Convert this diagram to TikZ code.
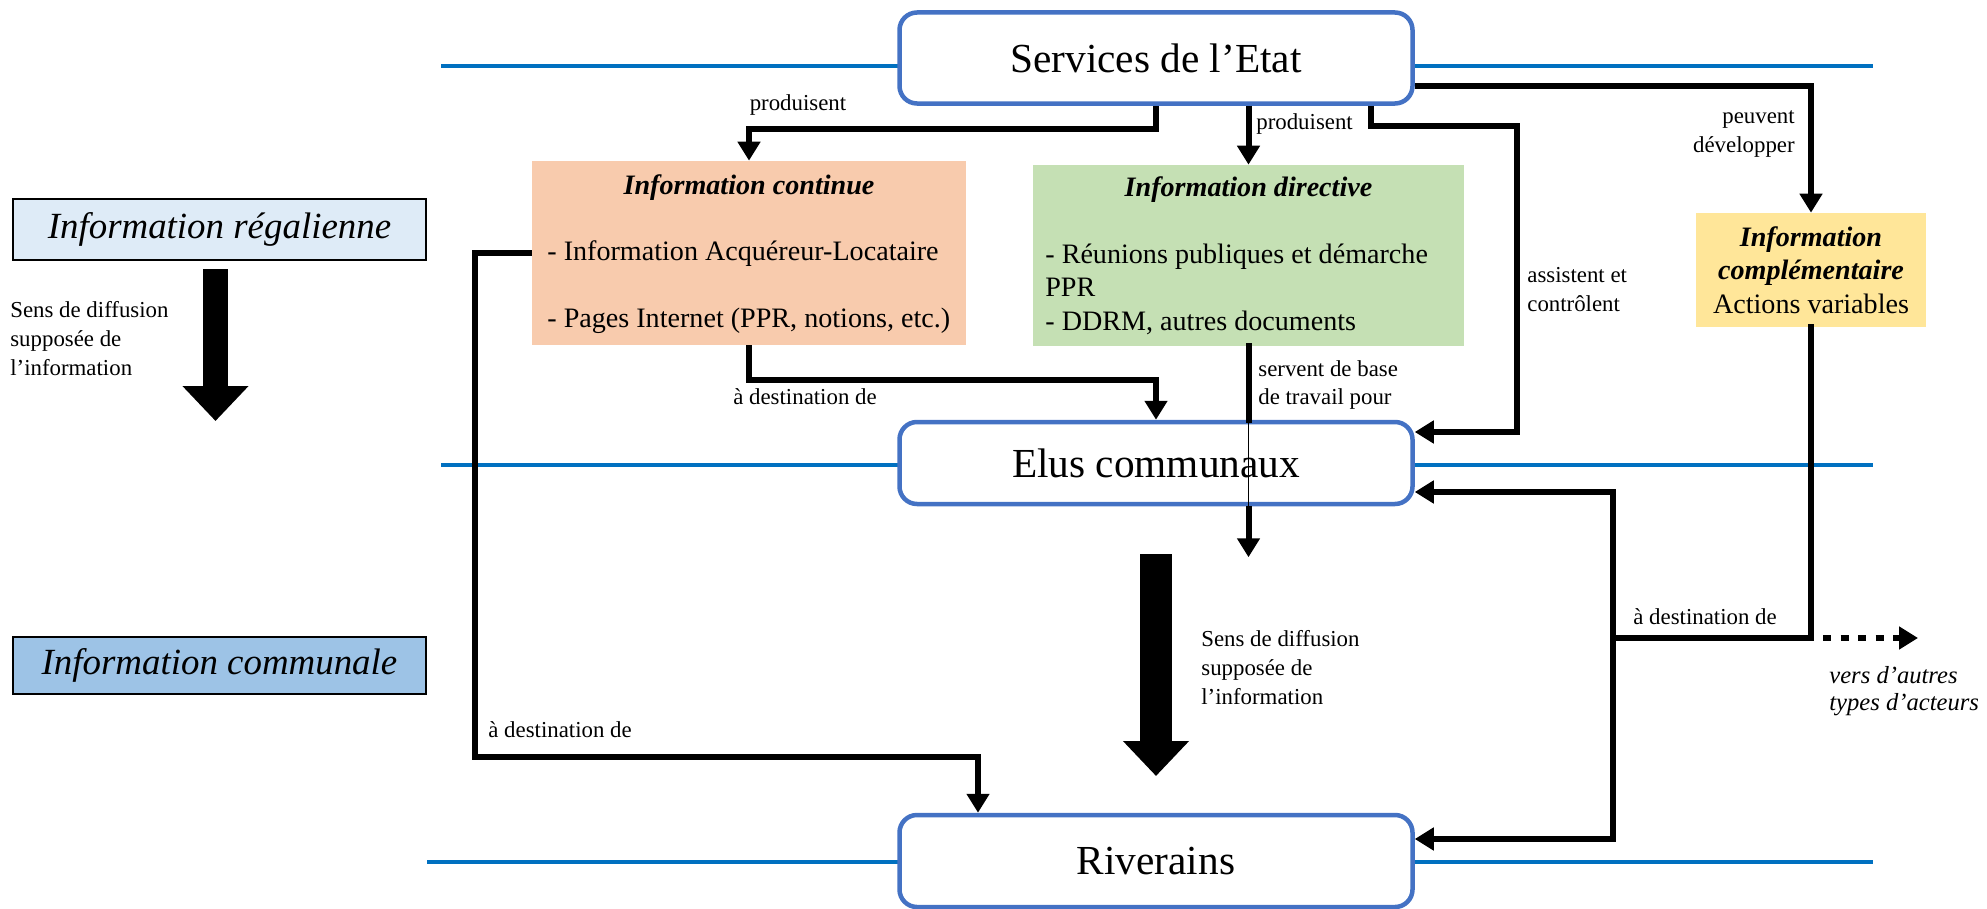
\documentclass[tikz,border=0pt]{standalone}
\usepackage{fontspec}
\setmainfont{Liberation Serif}
\usetikzlibrary{arrows.meta,positioning}

\definecolor{cadre}{HTML}{4472C4}
\definecolor{bleuniveau}{HTML}{0070C0}
\definecolor{saumon}{HTML}{F8CBAD}
\definecolor{vert}{HTML}{C5E0B4}
\definecolor{jaune}{HTML}{FFE699}
\definecolor{bleuclair}{HTML}{DEEBF7}
\definecolor{bleumoyen}{HTML}{9DC3E6}

\newcommand\petit{\fontsize{13}{16.5}\selectfont}
\newcommand\moyen{\fontsize{16}{19}\selectfont}

\begin{document}
\begin{tikzpicture}[x=0.2mm, y=-0.2mm,
  acteur/.style={draw=cadre, line width=0.9mm, rounded corners=3.5mm, fill=white,
    minimum width=102.6mm, font=\fontsize{23.5}{28}\selectfont},
  echelle/.style={draw, line width=0.45mm, minimum width=82.6mm, inner sep=0,
    font=\fontsize{21}{25}\selectfont\itshape},
  info/.style={fill=#1, inner sep=0},
  titre/.style={font=\moyen\bfseries\itshape, inner sep=0},
  corps/.style={font=\moyen, align=left, inner sep=0},
  etiq/.style={font=\petit, align=left, inner sep=0},
  niveau/.style={bleuniveau, line width=0.8mm},
  trait/.style={line width=1.2mm, line cap=rect},
  lien/.style={line width=1.2mm, -{Triangle[length=3.8mm,width=4.4mm]}},
  sens/.style={line width=#1, -{Triangle[length=7mm,width=12.8mm]}}]
  \useasboundingbox (0,0) rectangle (1987,909);

  % Niveaux
  \draw[niveau] (441,66) -- (1873,66);
  \draw[niveau] (441,465) -- (1873,465);
  \draw[niveau] (427,862) -- (1873,862);

  % Acteurs
  \node[acteur, minimum height=18.2mm] (etat) at (1156,58) {Services de l’Etat};
  \node[acteur, minimum height=16.4mm] (elus) at (1156,463) {Elus communaux};
  \node[acteur, minimum height=18.4mm] (riverains) at (1156,861) {Riverains};

  % Types d'information
  \node[echelle, fill=bleuclair, minimum height=12.2mm] (regalienne) at (219.5,229.5) {Information régalienne};
  \node[echelle, fill=bleumoyen, minimum height=11.4mm] (communale) at (219.5,665.5) {Information communale};

  \node[info=saumon, minimum width=86.8mm, minimum height=36.8mm] (continue) at (749,253) {};
  \node[titre] at (749,188) {Information continue};
  \node[corps, anchor=west] at (547,287)
    {- Information Acquéreur-Locataire\\[19pt]- Pages Internet (PPR, notions, etc.)};

  \node[info=vert, minimum width=86.2mm, minimum height=36.2mm] (directive) at (1248.5,255.5) {};
  \node[titre] at (1248.5,190) {Information directive};
  \node[corps, anchor=west] at (1045,289)
    {- Réunions publiques et démarche\\PPR\\- DDRM, autres documents};

  \node[info=jaune, minimum width=46mm, minimum height=22.8mm, align=center, font=\moyen]
    (complementaire) at (1811,270)
    {{\bfseries\itshape Information}\\{\bfseries\itshape complémentaire}\\Actions variables};

  % Sens de diffusion
  \coordinate (sens1 haut) at (215.5,269);
  \coordinate (sens1 bas) at (215.5,421);
  \draw[sens=5mm] (sens1 haut) -- (sens1 bas);
  \node[etiq, anchor=west] at (10,339) {Sens de diffusion\\supposée de\\l’information};

  \coordinate (sens2 haut) at (1156,554);
  \coordinate (sens2 bas) at (1156,776);
  \draw[sens=6.4mm] (sens2 haut) -- (sens2 bas);
  \node[etiq, anchor=west] at (1201,668) {Sens de diffusion\\supposée de\\l’information};

  % Services de l'Etat
  \draw[lien] (etat.south) -- ++(0,23) -| (continue.north);
  \node[etiq] at (798,105) {produisent};
  \draw[lien] (etat.south -| directive.north) -- (directive.north);
  \node[etiq, anchor=west] at (1256,124) {produisent};
  \draw[lien] ([xshift=43mm]etat.south) -- ++(0,20) -- ++(146,0) |- ([yshift=6.2mm]elus.east);
  \node[etiq, anchor=west] at (1527,290) {assistent et\\contrôlent};
  \draw[lien] ([yshift=-5.5mm]etat.east) -| (complementaire.north);
  \node[etiq, anchor=east, align=right] at (1795,134) {peuvent\\développer};

  % Information continue
  \draw[lien] (continue.south) -- ++(0,35) -| (elus.north);
  \node[etiq] at (805,397) {à destination de};
  \draw[lien] (continue.west) -- ++(-57,0) -- ++(0,504) -| ([xshift=-35.6mm]riverains.north);
  \node[etiq, anchor=west] at (488,730) {à destination de};

  % Information directive
  \draw[trait] (directive.south) -- (directive.south |- elus.north);
  \draw[thin] (directive.south |- elus.north) -- (directive.south |- elus.south);
  \draw[lien] (directive.south |- elus.south) -- ++(0,51);
  \node[etiq, anchor=west] at (1258,385) {servent de base\\de travail pour};

  % Information complementaire
  \coordinate (carrefour) at (1613,638);
  \coordinate (autres) at (1918,638);
  \draw[trait] (complementaire.south) |- (carrefour);
  \draw[lien] (carrefour) |- ([yshift=-5.8mm]elus.east);
  \draw[lien] (carrefour) |- ([yshift=4.4mm]riverains.east);
  \draw[lien, dash pattern=on 1.6mm off 1.9mm] ([xshift=2.4mm]complementaire.south |- carrefour) -- (autres);
  \node[etiq, anchor=west] at (1633,617) {à destination de};
  \node[etiq, anchor=west, font=\fontsize{14}{15.5}\selectfont\itshape] at (1829,691) {vers d’autres\\types d’acteurs};
\end{tikzpicture}
\end{document}
